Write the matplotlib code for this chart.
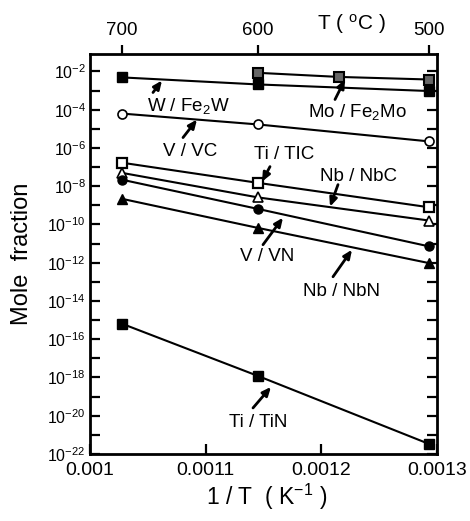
import numpy as np
import matplotlib
matplotlib.use('Agg')
import matplotlib.pyplot as plt
from matplotlib.ticker import FixedLocator, NullFormatter

plt.rcParams['font.family'] = ['Liberation Sans', 'DejaVu Sans']
plt.rcParams['mathtext.fontset'] = 'custom'
plt.rcParams['mathtext.rm'] = 'Liberation Sans'
plt.rcParams['mathtext.it'] = 'Liberation Sans:italic'
plt.rcParams['mathtext.bf'] = 'Liberation Sans:bold'

# temperatures (deg C) of the calculated points
temp_c = [700, 600, 500]
temp_mo = [600, 550, 500]

# mole fractions
w_fe2w = [4.9e-3, 2.1e-3, 9.5e-4]
mo_fe2mo = [8.5e-3, 5.2e-3, 3.8e-3]
v_vc = [6.3e-5, 1.7e-5, 2.2e-6]
ti_tic = [1.7e-7, 1.5e-8, 7.9e-10]
nb_nbc = [5.0e-8, 2.6e-9, 1.6e-10]
v_vn = [2.2e-8, 6.5e-10, 7.1e-12]
nb_nbn = [2.2e-9, 6.6e-11, 9.5e-13]
ti_tin = [6.5e-16, 1.2e-18, 3.3e-22]

x_ticks = [0.001, 0.0011, 0.0012, 0.0013]
x_ticklabels = ['0.001', '0.0011', '0.0012', '0.0013']
top_temps = [700, 600, 500]


def inv_t(t):
    return 1.0 / (np.array(t, dtype=float) + 273.15)


fig = plt.figure(figsize=(4.70, 5.21), dpi=100)
ax = fig.add_axes([90/470, 1-454/521, 347/470, 400.5/521])

lw = 1.5
ms = 6.5
ax.plot(inv_t(temp_c), w_fe2w, '-s', c='k', lw=lw, ms=ms, mfc='k', mec='k')
ax.plot(inv_t(temp_mo), mo_fe2mo, '-s', c='k', lw=lw, ms=ms, mfc='0.4', mec='k', mew=1.5)
ax.plot(inv_t(temp_c), v_vc, '-o', c='k', lw=lw, ms=ms, mfc='white', mec='k', mew=1.2)
ax.plot(inv_t(temp_c), ti_tic, '-s', c='k', lw=lw, ms=ms, mfc='white', mec='k', mew=1.6)
ax.plot(inv_t(temp_c), nb_nbc, '-^', c='k', lw=lw, ms=ms+1, mfc='white', mec='k', mew=1.2)
ax.plot(inv_t(temp_c), v_vn, '-o', c='k', lw=lw, ms=ms, mfc='k', mec='k')
ax.plot(inv_t(temp_c), nb_nbn, '-^', c='k', lw=lw, ms=ms+1, mfc='k', mec='k')
ax.plot(inv_t(temp_c), ti_tin, '-s', c='k', lw=lw, ms=ms+0.5, mfc='k', mec='k')

ax.set_yscale('log')
ax.set_xlim(0.001, 0.0013)
ax.set_ylim(1e-22, 10**-1.06)

# y ticks: every decade, labels every second one
maj = 10.0**np.arange(-22, -1, 2)
ax.yaxis.set_major_locator(FixedLocator(maj))
ax.yaxis.set_minor_locator(FixedLocator(10.0**np.arange(-21, -2, 2)))
ax.yaxis.set_minor_formatter(NullFormatter())
ax.set_yticklabels([r'$10^{%d}$' % e for e in range(-22, -1, 2)])

ax.set_xticks(x_ticks)
ax.set_xticklabels(x_ticklabels)
ax.xaxis.set_minor_locator(FixedLocator([]))

ax.tick_params(which='both', direction='in', length=7, width=1.6,
               left=True, right=True, top=True, bottom=True)
ax.tick_params(axis='y', labelsize=11.5, pad=3)
ax.tick_params(axis='x', labelsize=14, pad=6)
for s in ax.spines.values():
    s.set_linewidth(2.0)

# top axis in deg C
ax2 = ax.twiny()
ax2.set_xlim(ax.get_xlim())
ax2.set_xticks(inv_t(top_temps))
ax2.set_xticklabels([str(t) for t in top_temps])
ax2.xaxis.set_minor_locator(FixedLocator([]))
ax2.tick_params(axis='x', direction='out', length=6.5, width=1.6,
                labelsize=13.5, pad=4)
for s in ax2.spines.values():
    s.set_visible(False)

fig.text(351/470, 1-30/521, r'T ( $^{\mathrm{o}}$C )', fontsize=15,
         ha='center', va='baseline')
fig.text(267/470, 1-505/521, r'1 / T  ( K$^{\mathrm{-1}}$ )', fontsize=16.5,
         ha='center', va='baseline')
fig.text(22/470, 1-254/521, 'Mole  fraction', fontsize=17, rotation=90,
         ha='center', va='center')


def px(x):
    return 0.001 + (x - 90) * 0.0003 / 347


def py(y):
    return 10**(-2 - (y - 72) / 19.1)


labels = [
    ('W / Fe$_2$W', (188, 106), (153, 93), (162, 81)),
    ('V / VC', (190, 152), (183, 138), (197, 120)),
    ('Mo / Fe$_2$Mo', (357, 112), (335, 100), (345, 80)),
    ('Ti / TIC', (284, 155), (270, 167), (262, 182)),
    ('Nb / NbC', (359, 177), (338, 185), (330, 207)),
    ('V / VN', (267, 257), (263, 245), (283, 218)),
    ('Nb / NbN', (341, 292), (333, 277), (352, 250)),
    ('Ti / TiN', (258, 423), (253, 408), (271, 387)),
]
for txt, pos, tail, tip in labels:
    ax.text(px(pos[0]), py(pos[1]), txt, fontsize=13.5, ha='center', va='center')
    ax.annotate('', xy=(px(tip[0]), py(tip[1])), xytext=(px(tail[0]), py(tail[1])),
                arrowprops=dict(arrowstyle='-|>,head_length=0.5,head_width=0.22',
                                lw=2.0, color='k', shrinkA=0, shrinkB=0,
                                mutation_scale=10))

plt.savefig('out.png', dpi=100)
